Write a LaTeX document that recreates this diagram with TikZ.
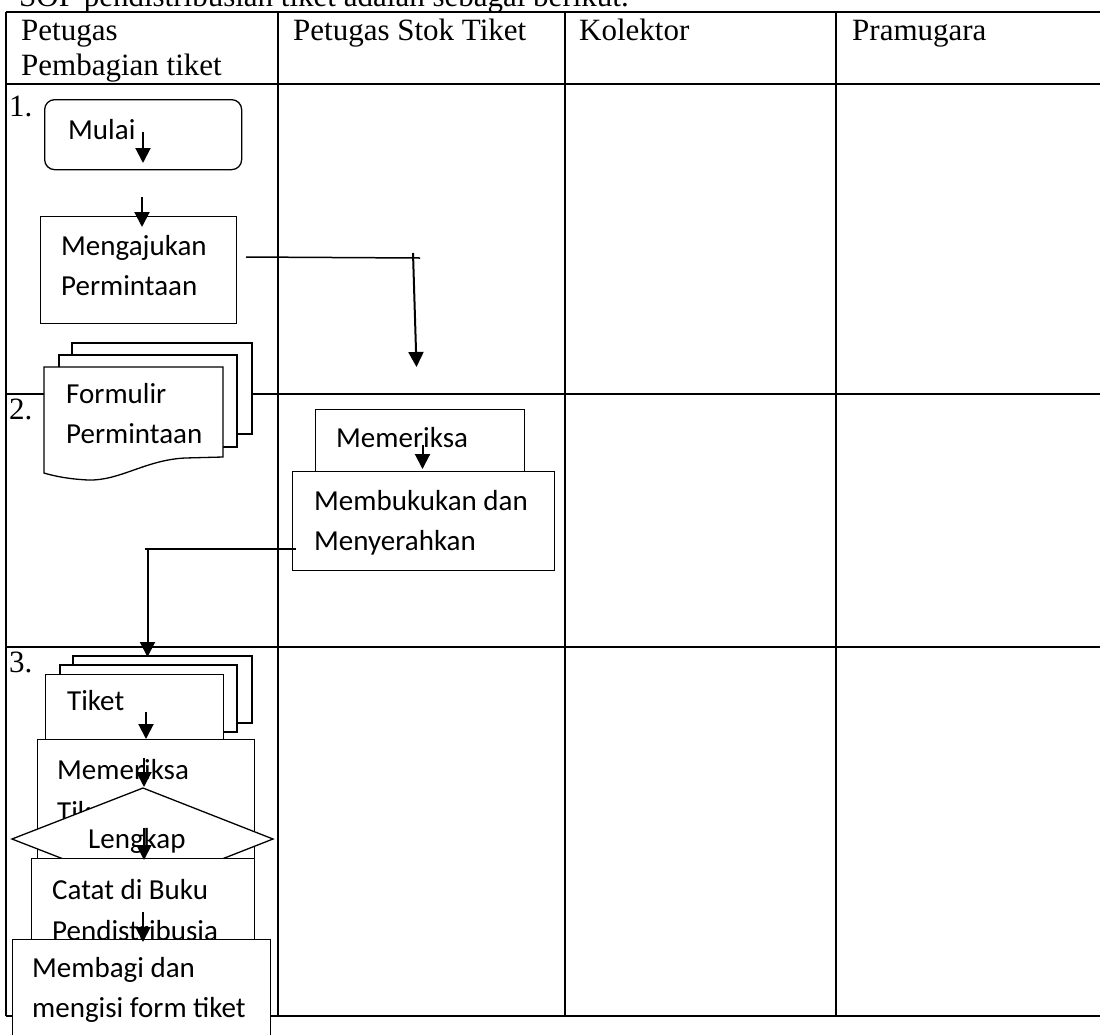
\documentclass[tikz,border=0pt]{standalone}
\usepackage{fontspec}
\setmainfont{Liberation Serif}
\newfontfamily\boxfont{Carlito}
\usetikzlibrary{arrows.meta}
\tikzset{
  grid/.style={line width=2pt},
  shp/.style={line width=1.3pt, draw=black, fill=white},
  box/.style={shp, inner sep=0pt, anchor=north west},
  hdr/.style={font=\fontsize{31}{36}\selectfont, anchor=base west, inner sep=0pt},
  lab/.style={font=\boxfont\fontsize{29}{42}\selectfont, anchor=base west, inner sep=0pt},
  conn/.style={line width=1.5pt},
  arr/.style={line width=2pt, -{Triangle[length=15pt,width=15pt]}},
}

\begin{document}
\begin{tikzpicture}[x=1pt, y=-1pt]
  \clip (0,0) rectangle (1100,1034);
  \useasboundingbox (0,0) rectangle (1100,1034);

  % table
  \draw[grid] (6,12) -- (1100,12);
  \draw[grid] (6,84) -- (1100,84);
  \draw[grid] (6,394) -- (1100,394);
  \draw[grid] (6,647) -- (1100,647);
  \draw[grid] (6,1016) -- (1100,1016);
  \draw[grid] (6,12) -- (6,1016);
  \draw[grid] (278,12) -- (278,1016);
  \draw[grid] (565,12) -- (565,1016);
  \draw[grid] (836,12) -- (836,1016);

  \node[hdr] (title) at (19,6) {SOP pendistribusian tiket adalah sebagai berikut.};
  \node[hdr] (colA1) at (21,40) {Petugas};
  \node[hdr] (colA2) at (21,75) {Pembagian tiket};
  \node[hdr] (colB) at (293,40) {Petugas Stok Tiket};
  \node[hdr] (colC) at (579,40) {Kolektor};
  \node[hdr] (colD) at (852,40) {Pramugara};

  \node[hdr] (num1) at (9,116) {1.};
  \node[hdr] (num2) at (9,419) {2.};
  \node[hdr] (num3) at (9,672) {3.};

  % row 1
  \node[box, rounded corners=10pt, minimum width=197pt, minimum height=70pt] (mulai) at (44,99) {};
  \node[lab] (mulaiT) at (68,139) {Mulai};

  \node[box, minimum width=196pt, minimum height=107pt] (ajukan) at (40,216) {};
  \node[lab] (ajukanT1) at (61,255) {Mengajukan};
  \node[lab] (ajukanT2) at (61,295) {Permintaan};

  \draw[shp] (72,343) rectangle (252,434);
  \draw[shp] (59,355) rectangle (237,447);
  \draw[shp] (44,367) -- (223,367) -- (223,457) -- (185,458)
    .. controls (145,460) and (120,481) .. (88,480)
    .. controls (68,479) and (54,476) .. (44,473) -- cycle;
  \node[lab] (formT1) at (66,403) {Formulir};
  \node[lab] (formT2) at (66,443) {Permintaan};

  % row 2
  \node[box, minimum width=209pt, minimum height=70pt] (periksa) at (315,409) {};
  \node[lab] (periksaT) at (336,447) {Memeriksa};
  \node[box, minimum width=262pt, minimum height=99pt] (bukukan) at (292,471) {};
  \node[lab] (bukukanT1) at (314,510) {Membukukan dan};
  \node[lab] (bukukanT2) at (314,550) {Menyerahkan};

  % row 3
  \draw[shp] (73,656) rectangle (252,723);
  \draw[shp] (60,665) rectangle (237,732);
  \node[box, minimum width=178pt, minimum height=80pt] (tiket) at (45,674) {};
  \node[lab] (tiketT) at (67,710) {Tiket};

  \node[box, minimum width=217pt, minimum height=130pt] (cektiket) at (37,739) {};
  \node[lab] (cektiketT1) at (57,779) {Memeriksa};
  \node[lab] (cektiketT2) at (57,821) {Tiket};

  \draw[shp] (143,788) -- (273,839) -- (143,890) -- (12,839) -- cycle;
  \node[lab] (lengkapT) at (88,848) {Lengkap};

  \node[box, minimum width=223pt, minimum height=110pt] (catat) at (31,858) {};
  \node[lab] (catatT1) at (52,899) {Catat di Buku};
  \node[lab] (catatT2) at (52,940) {Pendistribusia};

  \node[box, minimum width=258pt, minimum height=120pt] (bagi) at (12,939) {};
  \node[lab] (bagiT1) at (32,977) {Membagi dan};
  \node[lab] (bagiT2) at (32,1017) {mengisi form tiket};

  % connectors
  \coordinate (m1) at (143,132);   % inside Mulai
  \coordinate (m2) at (143,163);
  \coordinate (a1) at (142,197);   % to Mengajukan
  \coordinate (a2) at (142,227);
  \coordinate (h1) at (246,257);   % Mengajukan to Petugas Stok
  \coordinate (h2) at (420,258);
  \coordinate (v1) at (413,253);
  \coordinate (v2) at (416.5,367);
  \coordinate (p1) at (422.5,445); % inside Memeriksa
  \coordinate (p2) at (422.5,469);
  \coordinate (b1) at (296,549);   % Membukukan to Tiket
  \coordinate (b2) at (145,549);
  \coordinate (b3) at (147.5,549);
  \coordinate (b4) at (147.5,657);
  \coordinate (t1) at (146,712);
  \coordinate (t2) at (146,739);
  \coordinate (c1) at (144,758);
  \coordinate (c2) at (144,787);
  \coordinate (l1) at (144,828);
  \coordinate (l2) at (144,860);
  \coordinate (k1) at (143,912);
  \coordinate (k2) at (143,942);

  \draw[arr] (m1) -- (m2);
  \draw[arr] (a1) -- (a2);
  \draw[conn] (h1) -- (h2);
  \draw[arr] (v1) -- (v2);
  \draw[arr] (p1) -- (p2);
  \draw[conn] (b1) -- (b2);
  \draw[arr] (b3) -- (b4);
  \draw[arr] (t1) -- (t2);
  \draw[arr] (c1) -- (c2);
  \draw[arr] (l1) -- (l2);
  \draw[arr] (k1) -- (k2);
\end{tikzpicture}
\end{document}
